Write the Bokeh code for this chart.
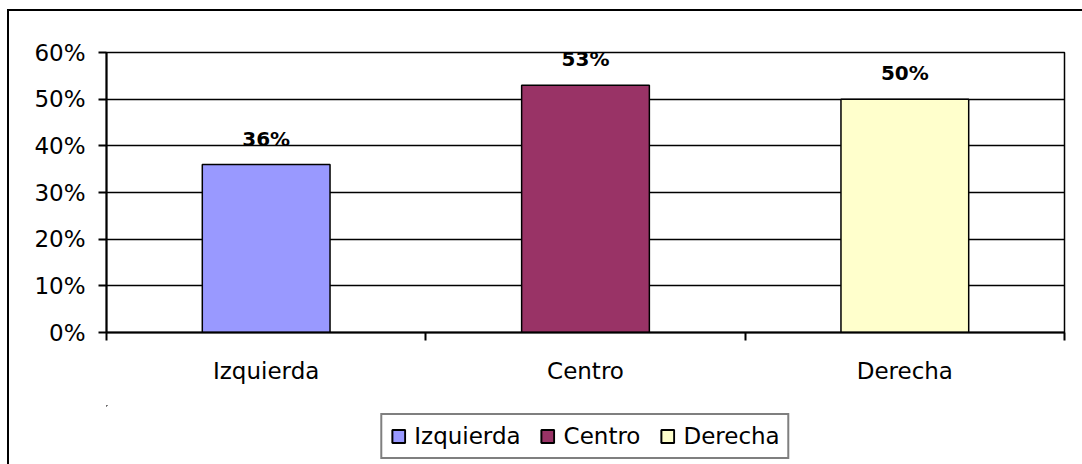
from bokeh.plotting import figure
from bokeh.layouts import column
from bokeh.models import ColumnDataSource, FixedTicker, NumeralTickFormatter, LabelSet, Legend, LegendItem, Range1d
from bokeh.core.properties import value
from bokeh.embed import file_html
from bokeh.resources import INLINE

categories = ["Izquierda", "Centro", "Derecha"]
shares = [0.36, 0.53, 0.50]
colors = ["#9999FF", "#993366", "#FFFFCC"]
y_ticks = [0.0, 0.1, 0.2, 0.3, 0.4, 0.5, 0.6]

FONT = "DejaVu Sans"

centers = [i + 0.5 for i in range(len(categories))]
bounds = [float(i) for i in range(len(categories) + 1)]
labels = [f"{round(v * 100)}%" for v in shares]

src = ColumnDataSource(dict(x=centers, top=shares, cat=categories, color=colors, label=labels))

W = 1073
p = figure(width=W, height=394, output_backend="svg", toolbar_location=None,
           x_range=Range1d(0, len(categories)), y_range=Range1d(0, 0.6),
           min_border_left=97, min_border_top=41, min_border_right=18, min_border_bottom=73)

p.background_fill_color = "white"
p.border_fill_color = "white"
p.outline_line_color = "black"
p.outline_line_width = 1.5

r = p.vbar(x="x", top="top", width=0.4, bottom=0, source=src,
           fill_color="color", line_color="black", line_width=1.5)

# y axis
p.yaxis.ticker = FixedTicker(ticks=y_ticks, minor_ticks=[])
p.yaxis.formatter = NumeralTickFormatter(format="0%")
p.yaxis.axis_line_color = "black"
p.yaxis.axis_line_width = 2
p.yaxis.major_tick_out = 8
p.yaxis.major_tick_in = 0
p.yaxis.major_tick_line_width = 2
p.yaxis.major_tick_line_color = "black"
p.yaxis.major_label_standoff = 13
p.yaxis.major_label_text_font = FONT
p.yaxis.major_label_text_font_size = "23px"
p.yaxis.major_label_text_color = "black"

# x axis: labels at centers, ticks at category boundaries
p.xaxis.ticker = FixedTicker(ticks=centers, minor_ticks=bounds)
p.xaxis.major_label_overrides = {c: n for c, n in zip(centers, categories)}
p.xaxis.axis_line_color = "black"
p.xaxis.axis_line_width = 2
p.xaxis.major_tick_out = 0
p.xaxis.major_tick_in = 0
p.xaxis.major_tick_line_color = None
p.xaxis.minor_tick_out = 8
p.xaxis.minor_tick_in = 0
p.xaxis.minor_tick_line_width = 2
p.xaxis.minor_tick_line_color = "black"
p.xaxis.major_label_standoff = 17
p.xaxis.major_label_text_font = FONT
p.xaxis.major_label_text_font_size = "23px"
p.xaxis.major_label_text_color = "black"

p.xgrid.grid_line_color = None
p.ygrid.ticker = FixedTicker(ticks=y_ticks)
p.ygrid.grid_line_color = "black"
p.ygrid.grid_line_width = 1.5

lbl = LabelSet(x="x", y="top", text="label", source=src, text_align="center",
               text_baseline="alphabetic", y_offset=19, text_font=value(FONT),
               text_font_size="20px", text_font_style="bold", text_color="black")
p.add_layout(lbl)

# legend strip below the chart (its bars sit outside its own visible range)
pl = figure(width=W, height=59, output_backend="svg", toolbar_location=None,
            x_range=Range1d(3, 6), y_range=Range1d(-2, -1),
            x_axis_location=None, y_axis_location=None,
            min_border_left=97, min_border_right=18, min_border_top=0, min_border_bottom=0)
pl.grid.visible = False
pl.outline_line_color = None
pl.background_fill_color = "white"
pl.border_fill_color = "white"
rl = pl.vbar(x="x", top="top", width=0.4, bottom=0, source=src,
             fill_color="color", line_color="black", line_width=2)

items = [LegendItem(label=c, renderers=[rl], index=i) for i, c in enumerate(categories)]
legend = Legend(items=items, orientation="horizontal", location="top_center",
                label_text_font=FONT, label_text_font_size="23px", label_text_color="black",
                glyph_width=16, glyph_height=16, label_standoff=8, spacing=19, padding=8,
                border_line_color="black", border_line_width=2, background_fill_color="white",
                background_fill_alpha=1.0, margin=8)
pl.add_layout(legend)

layout = column(p, pl, spacing=0,
                styles={"border-left": "2px solid black", "border-top": "2px solid black",
                        "margin-left": "7px", "margin-top": "9px"})

open("out.html", "w").write(file_html(layout, INLINE))
